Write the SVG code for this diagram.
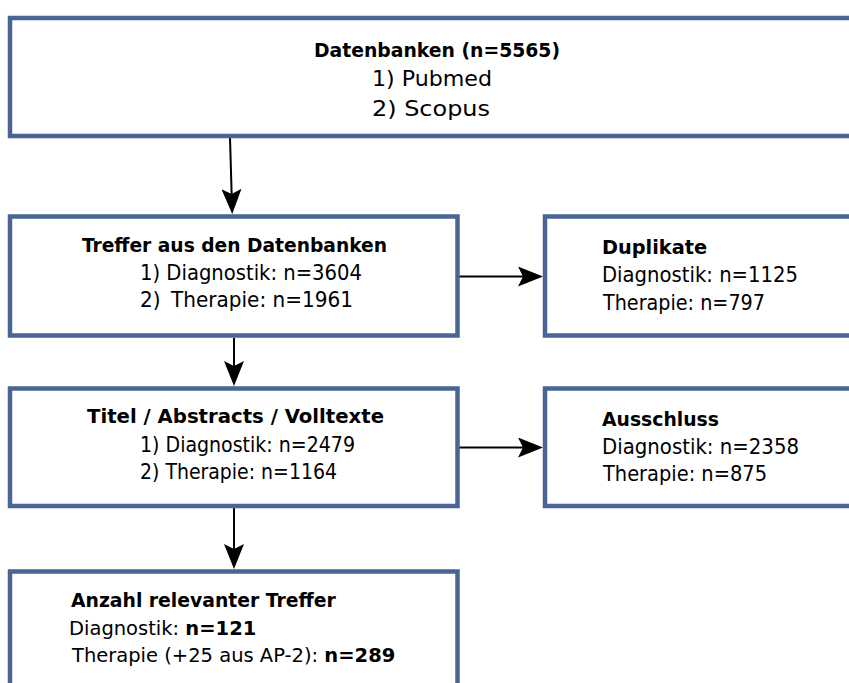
<svg xmlns="http://www.w3.org/2000/svg" width="849" height="683" viewBox="0 0 849 683">
<style>
  .box { fill: #ffffff; stroke: #4a6496; stroke-width: 4.5; }
  .conn { stroke: #000000; stroke-width: 2; fill: none; }
  text { font-family: "DejaVu Sans Condensed", "DejaVu Sans", "Noto Sans", sans-serif; font-stretch: condensed; fill: #000000; }
  .t { font-size: 20px; font-weight: bold; }
  .r { font-size: 21.5px; }
  .w { font-family: "DejaVu Sans", "Noto Sans", sans-serif; font-stretch: normal; }
  .r4 { font-size: 19.5px; }
  .t4 { font-size: 18.8px; font-weight: bold; }
  .b { font-weight: bold; }
</style>
<defs>
  <marker id="head" viewBox="0 0 25 20" refX="17" refY="10" markerWidth="25" markerHeight="20" markerUnits="userSpaceOnUse" orient="auto">
    <path d="M0,0 L25,10 L0,20 L5,10 Z" fill="#000000"/>
  </marker>
</defs>
<rect width="849" height="683" fill="#ffffff"/>

<g id="connectors">
  <line class="conn" x1="230" y1="138" x2="232" y2="206" marker-end="url(#head)"/>
  <line class="conn" x1="234" y1="338" x2="234" y2="378" marker-end="url(#head)"/>
  <line class="conn" x1="234" y1="508" x2="234" y2="561" marker-end="url(#head)"/>
  <line class="conn" x1="459" y1="276.5" x2="535" y2="276.5" marker-end="url(#head)"/>
  <line class="conn" x1="459" y1="447.5" x2="535" y2="447.5" marker-end="url(#head)"/>
</g>

<g id="datenbanken">
  <rect class="box" x="10" y="18" width="860" height="118"/>
  <text class="t" x="437" y="57" text-anchor="middle" textLength="246" lengthAdjust="spacingAndGlyphs">Datenbanken (n=5565)</text>
  <text class="r" x="432" y="86" text-anchor="middle" textLength="120" lengthAdjust="spacingAndGlyphs">1) Pubmed</text>
  <text class="r" x="431" y="116" text-anchor="middle" textLength="118" lengthAdjust="spacingAndGlyphs">2) Scopus</text>
</g>

<g id="treffer">
  <rect class="box" x="10" y="216.5" width="447.5" height="119"/>
  <text class="t" x="82" y="252" textLength="305" lengthAdjust="spacingAndGlyphs">Treffer aus den Datenbanken</text>
  <text class="r" x="140" y="280" textLength="222" lengthAdjust="spacingAndGlyphs">1) Diagnostik: n=3604</text>
  <text class="r" x="140" y="307" textLength="213" lengthAdjust="spacingAndGlyphs">2) <tspan dx="4">Therapie: n=1961</tspan></text>
</g>

<g id="duplikate">
  <rect class="box" x="545" y="216.5" width="320" height="119"/>
  <text class="t" x="602" y="254" textLength="105" lengthAdjust="spacingAndGlyphs">Duplikate</text>
  <text class="r" x="602" y="282" textLength="196" lengthAdjust="spacingAndGlyphs">Diagnostik: n=1125</text>
  <text class="r" x="603" y="310" textLength="162" lengthAdjust="spacingAndGlyphs">Therapie: n=797</text>
</g>

<g id="titel">
  <rect class="box" x="10" y="388.5" width="447.5" height="117.5"/>
  <text class="t" x="87" y="423" textLength="297" lengthAdjust="spacingAndGlyphs">Titel / Abstracts / Volltexte</text>
  <text class="r" x="140" y="452" textLength="215" lengthAdjust="spacingAndGlyphs">1) Diagnostik: n=2479</text>
  <text class="r" x="140" y="479" textLength="197" lengthAdjust="spacingAndGlyphs">2) Therapie: n=1164</text>
</g>

<g id="ausschluss">
  <rect class="box" x="545" y="388.5" width="320" height="117.5"/>
  <text class="t" x="602" y="426" textLength="117" lengthAdjust="spacingAndGlyphs">Ausschluss</text>
  <text class="r" x="602" y="454" textLength="197" lengthAdjust="spacingAndGlyphs">Diagnostik: n=2358</text>
  <text class="r" x="603" y="481" textLength="164" lengthAdjust="spacingAndGlyphs">Therapie: n=875</text>
</g>

<g id="relevant">
  <rect class="box" x="10" y="571.5" width="447.5" height="140"/>
  <text class="t4 w" x="71" y="607">Anzahl relevanter Treffer</text>
  <text class="r4 w" x="69" y="635">Diagnostik: <tspan class="b">n=121</tspan></text>
  <text class="r4 w" x="72" y="662">Therapie (+25 aus AP-2): <tspan class="b">n=289</tspan></text>
</g>
</svg>
